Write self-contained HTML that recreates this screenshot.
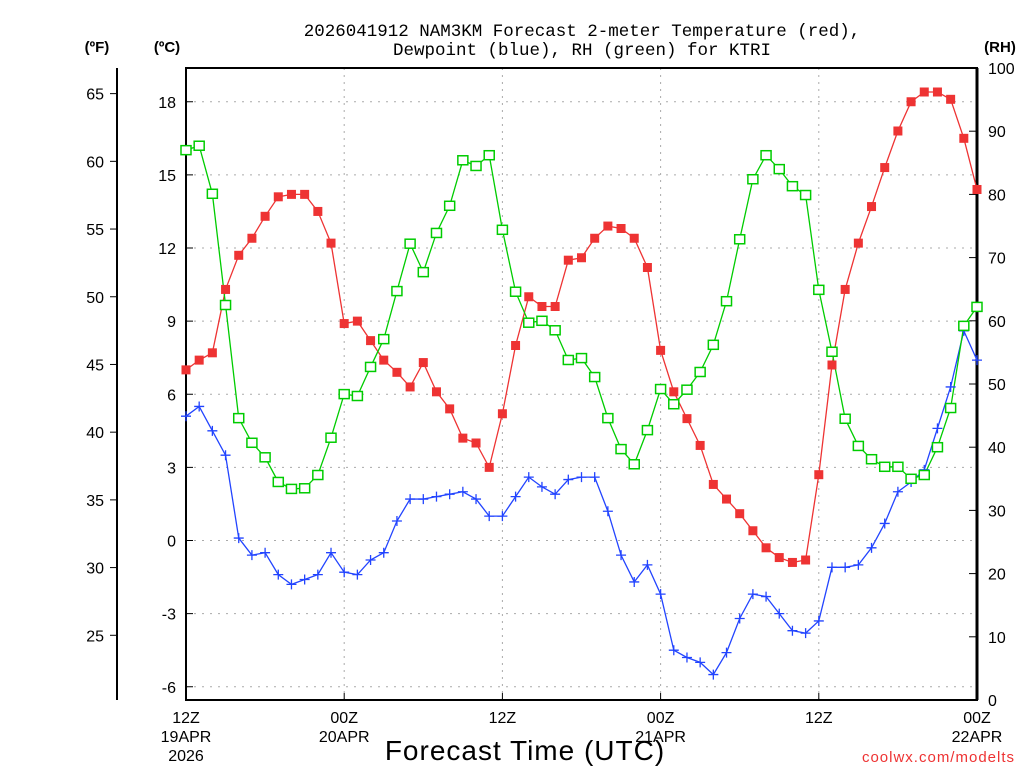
<!DOCTYPE html>
<html><head><meta charset="utf-8"><style>
body{margin:0;background:#fff;}
svg{display:block;font-family:"Liberation Sans",sans-serif;}
</style></head><body>
<svg id="chart" width="1024" height="768" xmlns="http://www.w3.org/2000/svg">
<g id="grid"></g>
<g id="axes"></g>
<g id="series"></g>
<text x="582" y="36" text-anchor="middle" font-size="17.5" font-family="Liberation Mono, monospace">2026041912 NAM3KM Forecast 2-meter Temperature (red),</text>
<text x="582" y="55" text-anchor="middle" font-size="17.5" font-family="Liberation Mono, monospace">Dewpoint (blue), RH (green) for KTRI</text>
<text x="97" y="52" text-anchor="middle" font-size="15" font-weight="bold">(ºF)</text>
<text x="167" y="52" text-anchor="middle" font-size="15" font-weight="bold">(ºC)</text>
<text x="1000" y="52" text-anchor="middle" font-size="15" font-weight="bold">(RH)</text>
<text x="525" y="760" text-anchor="middle" font-size="28" letter-spacing="1">Forecast Time (UTC)</text>
<text x="1015" y="762" text-anchor="end" font-size="15" fill="#ee3333" letter-spacing="1">coolwx.com/modelts</text>
</svg>
<script>
const hours = Array.from({length:61},(_,i)=>i);
const tempC = [7.0,7.4,7.7,10.3,11.7,12.4,13.3,14.1,14.2,14.2,13.5,12.2,8.9,9.0,8.2,7.4,6.9,6.3,7.3,6.1,5.4,4.2,4.0,3.0,5.2,8.0,10.0,9.6,9.6,11.5,11.6,12.4,12.9,12.8,12.4,11.2,7.8,6.1,5.0,3.9,2.3,1.7,1.1,0.4,-0.3,-0.7,-0.9,-0.8,2.7,7.2,10.3,12.2,13.7,15.3,16.8,18.0,18.4,18.4,18.1,16.5,14.4];
const dewC = [5.1,5.5,4.5,3.5,0.1,-0.6,-0.5,-1.4,-1.8,-1.6,-1.4,-0.5,-1.3,-1.4,-0.8,-0.5,0.8,1.7,1.7,1.8,1.9,2.0,1.7,1.0,1.0,1.8,2.6,2.2,1.9,2.5,2.6,2.6,1.2,-0.6,-1.7,-1.0,-2.2,-4.5,-4.8,-5.0,-5.5,-4.6,-3.2,-2.2,-2.3,-3.0,-3.7,-3.8,-3.3,-1.1,-1.1,-1.0,-0.3,0.7,2.0,2.4,2.9,4.6,6.3,8.6,7.4];
const rh = [87.0,87.7,80.1,62.5,44.6,40.7,38.4,34.5,33.4,33.5,35.6,41.5,48.4,48.1,52.7,57.1,64.7,72.2,67.7,73.9,78.2,85.4,84.5,86.2,74.4,64.6,59.7,60.0,58.5,53.8,54.1,51.1,44.6,39.7,37.3,42.7,49.2,46.8,49.1,51.9,56.2,63.1,72.9,82.4,86.2,84.0,81.3,79.9,64.9,55.1,44.5,40.2,38.1,36.9,36.9,35.0,35.6,40.0,46.2,59.2,62.2];
const cTicks = [-6,-3,0,3,6,9,12,15,18];
const fTicks = [25,30,35,40,45,50,55,60,65];
const rhTicks = [0,10,20,30,40,50,60,70,80,90,100];
const xTickHours = [0,12,24,36,48,60];
const xTickLabels = [["12Z","19APR","2026"],["00Z","20APR"],["12Z"],["00Z","21APR"],["12Z"],["00Z","22APR"]];

const NS="http://www.w3.org/2000/svg";
const L=186,R=977,T=68,B=700;
const xS=h=>L+(R-L)*h/60;
const cS=c=>540.5-c*24.375;
const fS=f=>cS((f-32)*5/9);
const rS=v=>B-(B-T)*v/100;
function mk(tag,attrs,parent,text){const e=document.createElementNS(NS,tag);for(const k in attrs)e.setAttribute(k,attrs[k]);if(text!==undefined)e.textContent=text;parent.appendChild(e);return e;}
const grid=document.getElementById('grid'),axes=document.getElementById('axes'),series=document.getElementById('series');

cTicks.forEach(c=>{const y=cS(c);
 const g=mk('line',{x1:L,x2:R,y1:y,y2:y,stroke:'#aaa','stroke-dasharray':'2,6'},grid);
 
 
 mk('line',{x1:L,x2:L+7,y1:y,y2:y,stroke:'#000'},axes);
 const t=mk('text',{x:176,y:y+6,'text-anchor':'end','font-size':16},axes,String(c));
 
 
});
xTickHours.forEach((h,i)=>{const x=xS(h);
 if(i>0&&i<xTickHours.length-1){const g=mk('line',{x1:x,x2:x,y1:T,y2:B,stroke:'#aaa','stroke-dasharray':'2,5'},grid);
 
 }
 mk('line',{x1:x,x2:x,y1:B,y2:B-7,stroke:'#000'},axes);
 xTickLabels[i].forEach((s,j)=>{const t=mk('text',{x:x,y:723+j*19,'text-anchor':'middle','font-size':16},axes,s);
 
 });
});
fTicks.forEach(f=>{const y=fS(f);
 mk('line',{x1:117,x2:110,y1:y,y2:y,stroke:'#000'},axes);
 const t=mk('text',{x:104,y:y+6,'text-anchor':'end','font-size':16},axes,String(f));
 
 
});
rhTicks.forEach(v=>{const y=rS(v);
 mk('line',{x1:R,x2:R-8,y1:y,y2:y,stroke:'#000'},axes);
 const t=mk('text',{x:988,y:y+6,'font-size':16},axes,String(v));
 
 
});
mk('rect',{x:L,y:T,width:R-L,height:B-T,fill:'none',stroke:'#000','stroke-width':2},axes);
mk('line',{x1:R,x2:R,y1:T,y2:B,stroke:'#000','stroke-width':3},axes);
mk('line',{x1:117,x2:117,y1:T,y2:B,stroke:'#000','stroke-width':2},axes);

function line(vals,sc,color,name){
 const p=mk('polyline',{points:vals.map((v,i)=>xS(hours[i])+','+sc(v)).join(' '),fill:'none',stroke:color,'stroke-width':1.3},series);
 
 
}
line(tempC,cS,'#ee3333','temperature');
line(dewC,cS,'#2244ff','dewpoint');
line(rh,rS,'#00cc00','rh');
tempC.forEach((v,i)=>{const r=mk('rect',{x:xS(hours[i])-4.5,y:cS(v)-4.5,width:9,height:9,fill:'#ee3333'},series);
 
 });
dewC.forEach((v,i)=>{const x=xS(hours[i]),y=cS(v);const p=mk('path',{d:`M${x-5},${y}H${x+5}M${x},${y-5}V${y+5}`,stroke:'#2244ff','stroke-width':1.3},series);
 
 });
rh.forEach((v,i)=>{const r=mk('rect',{x:xS(hours[i])-5,y:rS(v)-4.5,width:10,height:9,fill:'#fff',stroke:'#00cc00','stroke-width':1.5},series);
 
 });
</script>
</body></html>
